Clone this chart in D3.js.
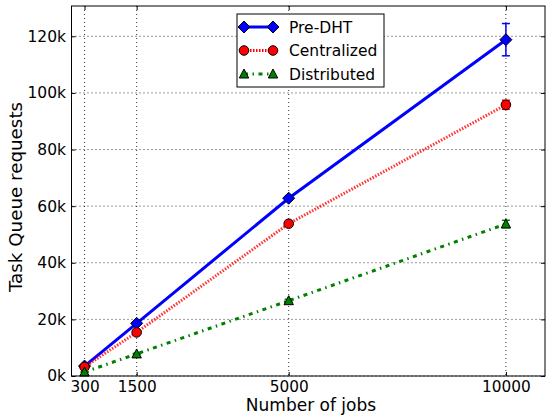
<!DOCTYPE html>
<html>
<head>
<meta charset="utf-8">
<script src="https://cdn.jsdelivr.net/npm/d3@7"></script>
<style>
  body { margin: 0; background: #fff; }
  text { font-family: "DejaVu Sans", sans-serif; fill: #000; }
</style>
</head>
<body>
<div id="chart"></div>
<script>
var jobs = [300, 1500, 5000, 10000];
var xTicks = [300, 1500, 5000, 10000];
var yTicks = [0, 20000, 40000, 60000, 80000, 100000, 120000];

var preDht = [3500, 18600, 62800, 118800];
var preDhtErr = [300, 500, 600, 5700];
var centralized = [3200, 15400, 53800, 95800];
var centralizedErr = [200, 300, 400, 1600];
var distributed = [1400, 7800, 26600, 53700];
var distributedErr = [100, 200, 500, 1300];

var seriesNames = ["Pre-DHT", "Centralized", "Distributed"];

var width = 546, height = 419;
var pLeft = 71.5, pRight = 545, pTop = 6, pBottom = 376;

var svg = d3.select("#chart").append("svg")
  .attr("width", width)
  .attr("height", height);

var x = d3.scaleLinear().domain([0, 10900]).range([pLeft, pRight]);
var y = d3.scaleLinear().domain([0, 130700]).range([pBottom, pTop]);

// grid
var grid = svg.append("g").attr("class", "grid");
grid.selectAll("line.vx")
  .data(xTicks)
  .enter()
  .append("line")
  .attr("x1", function(d){ return x(d); })
  .attr("x2", function(d){ return x(d); })
  .attr("y1", pTop)
  .attr("y2", pBottom)
  .attr("stroke", "black")
  .attr("stroke-width", 0.8)
  .attr("stroke-dasharray", "1,3");
grid.selectAll("line.hy")
  .data(yTicks)
  .enter()
  .append("line")
  .attr("x1", pLeft)
  .attr("x2", pRight)
  .attr("y1", function(d){ return y(d); })
  .attr("y2", function(d){ return y(d); })
  .attr("stroke", "black")
  .attr("stroke-width", 0.8)
  .attr("stroke-dasharray", "1,3");

// axes
var xAxis = d3.axisBottom(x).tickValues(xTicks).tickSizeInner(-4).tickSizeOuter(0).tickPadding(5.5)
  .tickFormat(d3.format("d"));
var yAxis = d3.axisLeft(y).tickValues(yTicks).tickSizeInner(-4).tickSizeOuter(0).tickPadding(5.5)
  .tickFormat(function(d){ return (d / 1000) + "k"; });

var gx = svg.append("g").attr("transform", "translate(0," + pBottom + ")").call(xAxis);
var gy = svg.append("g").attr("transform", "translate(" + pLeft + ",0)").call(yAxis);
gx.selectAll("text").style("font-size", "15.3px").style("font-family", "DejaVu Sans");
gy.selectAll("text").style("font-size", "15.5px").style("font-family", "DejaVu Sans");
gx.select(".domain").remove();
gy.select(".domain").remove();

// mirrored ticks top/right
svg.append("g").attr("transform", "translate(0," + pTop + ")")
  .call(d3.axisTop(x).tickValues(xTicks).tickSizeInner(-4).tickSizeOuter(0).tickFormat(""))
  .select(".domain").remove();
svg.append("g").attr("transform", "translate(" + pRight + ",0)")
  .call(d3.axisRight(y).tickValues(yTicks).tickSizeInner(-4).tickSizeOuter(0).tickFormat(""))
  .select(".domain").remove();

// series
var series = [
  {name: seriesNames[0], vals: preDht, err: preDhtErr, color: "#0000ff", dash: null, width: 3, marker: "diamond"},
  {name: seriesNames[1], vals: centralized, err: centralizedErr, color: "#ff0000", dash: "1.5,1.5", width: 3, marker: "circle"},
  {name: seriesNames[2], vals: distributed, err: distributedErr, color: "#007f00", dash: "4,4.5,1.5,4.5", width: 3, marker: "triangle"}
];

var line = d3.line()
  .x(function(d){ return x(d[0]); })
  .y(function(d){ return y(d[1]); });

function markerPath(type){
  if (type == "diamond") return "M0,-6 L6,0 L0,6 L-6,0 Z";
  if (type == "triangle") return "M0,-5 L4.7,4 L-4.7,4 Z";
  return d3.symbol().type(d3.symbolCircle).size(72)();
}

var plot = svg.append("g");
series.forEach(function(s){
  var pts = jobs.map(function(j, i){ return [j, s.vals[i], s.err[i]]; });
  var path = plot.append("path")
    .datum(pts)
    .attr("d", line)
    .attr("fill", "none")
    .attr("stroke", s.color)
    .attr("stroke-width", s.width);
  if (s.dash) path.attr("stroke-dasharray", s.dash);
  if (s.name == "Centralized") path.attr("stroke-opacity", 0.8);

  var eb = plot.append("g");
  eb.selectAll("line.v").data(pts).enter().append("line")
    .attr("x1", function(d){ return x(d[0]); })
    .attr("x2", function(d){ return x(d[0]); })
    .attr("y1", function(d){ return y(d[1] - d[2]); })
    .attr("y2", function(d){ return y(d[1] + d[2]); })
    .attr("stroke", s.color).attr("stroke-width", 1.5);
  [-1, 1].forEach(function(sign){
    eb.selectAll("line.c" + sign).data(pts).enter().append("line")
      .attr("x1", function(d){ return x(d[0]) - 4; })
      .attr("x2", function(d){ return x(d[0]) + 4; })
      .attr("y1", function(d){ return y(d[1] + sign * d[2]); })
      .attr("y2", function(d){ return y(d[1] + sign * d[2]); })
      .attr("stroke", s.color).attr("stroke-width", 1.5);
  });

  plot.selectAll(null).data(pts).enter().append("path")
    .attr("d", markerPath(s.marker))
    .attr("transform", function(d){ return "translate(" + x(d[0]) + "," + y(d[1]) + ")"; })
    .attr("fill", s.color)
    .attr("stroke", "black")
    .attr("stroke-width", 1);
});

// frame
svg.append("rect")
  .attr("x", pLeft).attr("y", pTop)
  .attr("width", pRight - pLeft).attr("height", pBottom - pTop)
  .attr("fill", "none").attr("stroke", "black").attr("stroke-width", 1);

// legend
var lg = svg.append("g").attr("transform", "translate(237,14)");
lg.append("rect").attr("width", 147).attr("height", 73)
  .attr("fill", "white").attr("stroke", "black").attr("stroke-width", 1);
series.forEach(function(s, i){
  var ly = 13 + i * 23.5;
  var l = lg.append("line")
    .attr("x1", 7).attr("x2", 36).attr("y1", ly).attr("y2", ly)
    .attr("stroke", s.color).attr("stroke-width", s.width);
  if (s.dash) l.attr("stroke-dasharray", s.dash);
  [7, 36].forEach(function(mx){
    lg.append("path")
      .attr("d", markerPath(s.marker))
      .attr("transform", "translate(" + mx + "," + ly + ")")
      .attr("fill", s.color).attr("stroke", "black").attr("stroke-width", 1);
  });
  lg.append("text")
    .attr("x", 52).attr("y", ly + 5.5)
    .style("font-size", "15.5px")
    .text(s.name);
});

// axis labels
svg.append("text")
  .attr("x", 311)
  .attr("y", 410.5)
  .attr("text-anchor", "middle")
  .style("font-size", "17px")
  .text("Number of jobs");
svg.append("text")
  .attr("transform", "translate(21.5,197) rotate(-90)")
  .attr("text-anchor", "middle")
  .style("font-size", "18.3px")
  .text("Task Queue requests");
</script>
</body>
</html>
